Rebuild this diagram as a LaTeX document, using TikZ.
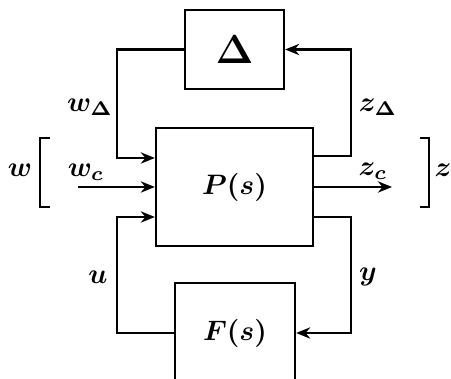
\documentclass[tikz,border=0pt]{standalone}
\usepackage{amsmath, amssymb}
\usepackage{tikz}
\usetikzlibrary{arrows.meta, positioning, calc}
\tikzset{
  blk/.style={draw, line width=0.8pt, inner sep=0pt},
  sig/.style={line width=0.8pt, -{Stealth[length=5pt, width=4pt]}},
  wire/.style={line width=0.8pt},
}

\begin{document}
\begin{tikzpicture}[x=0.0125cm, y=-0.0125cm, font=\boldmath]
      \useasboundingbox (0,0) rectangle (451,379);
      % blocks
      \node[blk, minimum width=1.2375cm, minimum height=0.9875cm] (delta) at (234.5,49.5) {\Large $\boldsymbol{\Delta}$};
      \node[blk, minimum width=1.9625cm, minimum height=1.475cm] (plant) at (234.5,187) {$P(s)$};
      \node[blk, minimum width=1.5cm, minimum height=1.25cm] (ctrl) at (235,333) {$F(s)$};
      % loop corners
      \coordinate (lt) at (117,158);
      \coordinate (lb) at (117,217);
      \coordinate (rt) at (351,156);
      \coordinate (rb) at (351,217);
      \coordinate (win) at (78,187);
      \coordinate (zout) at (392,187);
      % uncertainty loop
      \draw[sig] (delta.west) -| (lt) -- (plant.west |- lt);
      \draw[sig] (plant.east |- rt) -- (rt) |- (delta.east);
      % controller loop
      \draw[sig] (ctrl.west) -| (lb) -- (plant.west |- lb);
      \draw[sig] (plant.east |- rb) -- (rb) |- (ctrl.east);
      % exogenous signals
      \draw[sig] (win) -- (plant.west |- win);
      \draw[sig] (plant.east |- zout) -- (zout);
      % brackets
      \draw[wire] (50,138) -- (40,138) -- (40,207) -- (50,207);
      \draw[wire] (420,138) -- (429,138) -- (429,207) -- (420,207);
      % labels
      \node (lw) at (20,170) {$w$};
      \node[inner sep=0pt] (lz) at (443,170) {$z$};
      \node (lwc) at (86,172) {$w_c$};
      \node (lzc) at (373,171) {$z_c$};
      \node (lwd) at (90,107) {$w_{\boldsymbol{\Delta}}$};
      \node (lzd) at (378,107) {$z_{\boldsymbol{\Delta}}$};
      \node (lu) at (98,277) {$u$};
      \node (ly) at (368,277) {$y$};
    \end{tikzpicture}
\end{document}
